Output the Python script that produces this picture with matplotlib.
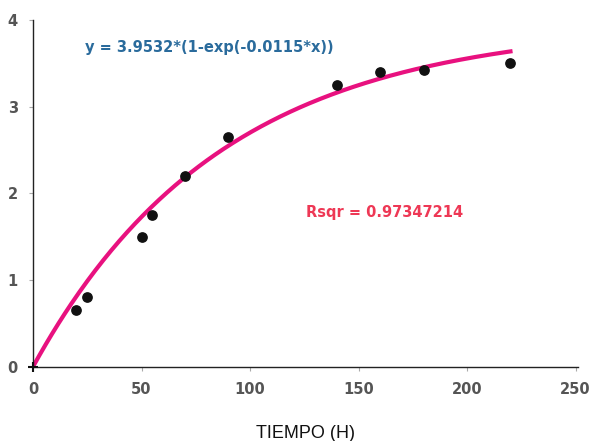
import numpy as np
import matplotlib
matplotlib.use("Agg")
import matplotlib.pyplot as plt

plt.rcParams['font.family'] = ['DejaVu Sans']

# Data
tiempo = [20, 25, 50, 55, 70, 90, 140, 160, 180, 220]
valores = [0.65, 0.80, 1.50, 1.75, 2.20, 2.65, 3.25, 3.40, 3.42, 3.50]
origen_x = [0]
origen_y = [0]

# Fit parameters (from the chart's equation)
a_fit = 3.9532
k_fit = 0.0115
fit_xmax = 220
r2_text = "Rsqr = 0.97347214"
eq_text = "y = 3.9532*(1-exp(-0.0115*x))"

x_ticks = [0, 50, 100, 150, 200, 250]
y_ticks = [0, 1, 2, 3, 4]

fig = plt.figure(figsize=(5.95, 4.41), dpi=100)
ax = fig.add_axes([0.0555, 0.1685, 0.9155, 0.786])

xs = np.linspace(0, fit_xmax, 300)
ax.plot(xs, a_fit * (1 - np.exp(-k_fit * xs)), color='#e8117f', lw=3, zorder=2)
ax.scatter(tiempo, valores, s=45, color='#111111', zorder=3)
ax.scatter(origen_x, origen_y, marker='+', s=60, color='#111111', linewidths=1.5, zorder=3, clip_on=False)

ax.set_xlim(0, 251)
ax.set_ylim(0, 4)
ax.set_xticks(x_ticks)
ax.set_yticks(y_ticks)
for s in ['top', 'right']:
    ax.spines[s].set_visible(False)
for s in ['left', 'bottom']:
    ax.spines[s].set_color('#222222')
    ax.spines[s].set_linewidth(1.0)
ax.tick_params(axis='both', length=3, width=0.8, color='#aaaaaa', labelsize=10.5,
               labelcolor='#555555', pad=8)
for lab in ax.get_xticklabels() + ax.get_yticklabels():
    lab.set_fontweight('bold')

ax.set_xlabel('TIEMPO (H)', fontsize=13, color='#111111', labelpad=20,
              family=['Liberation Sans', 'DejaVu Sans'])

ax.text(0.095, 0.92, eq_text, transform=ax.transAxes, fontsize=10.5,
        color='#2a6b9c', fontweight='bold', va='center', ha='left')
ax.text(0.502, 0.445, r2_text, transform=ax.transAxes, fontsize=10.5,
        color='#ee3855', fontweight='bold', va='center', ha='left')

fig.savefig('out.png', dpi=100)
